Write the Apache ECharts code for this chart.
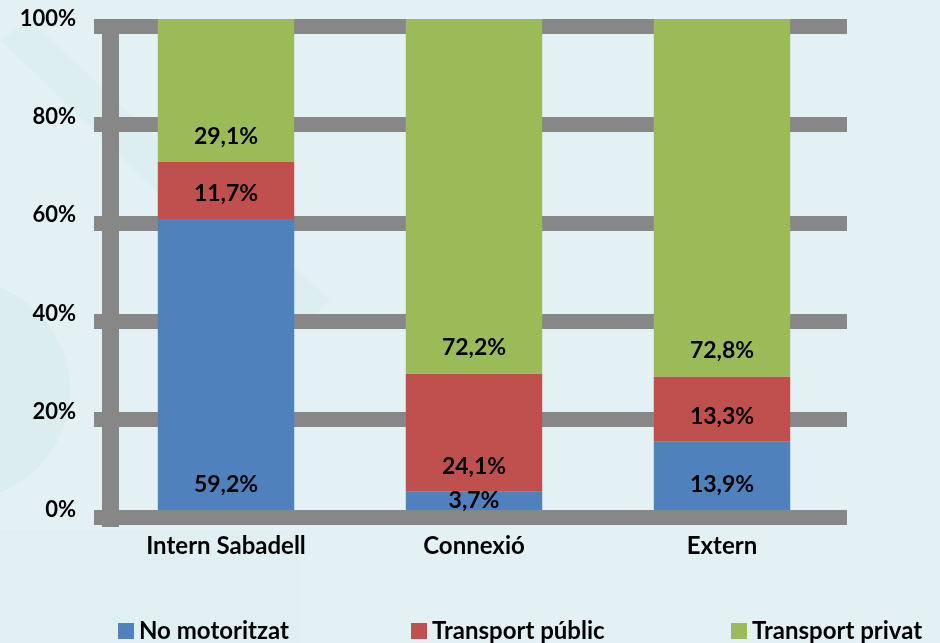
<!DOCTYPE html>
<html>
<head>
<meta charset="utf-8">
<script src="https://cdn.jsdelivr.net/npm/echarts@6/dist/echarts.min.js"></script>
<style>
  html, body { margin: 0; padding: 0; background: #e3f1f4; }
  #chart { width: 940px; height: 643px; }
</style>
</head>
<body>
<div id="chart"></div>
<script>
var categories = ['Intern Sabadell', 'Connexió', 'Extern'];
var seriesNames = ['No motoritzat', 'Transport públic', 'Transport privat'];
var noMotoritzat = [59.2, 3.7, 13.9];
var transportPublic = [11.7, 24.1, 13.3];
var transportPrivat = [29.1, 72.2, 72.8];
var colors = ['#4f81bd', '#c0504d', '#9bbb59'];

var font = 'Lato, "Open Sans", sans-serif';
var myChart = echarts.init(document.getElementById('chart'));

function pct(p) {
  return p.value.toFixed(1).replace('.', ',') + '%';
}

function barSeries(name, values, color) {
  return {
    name: name,
    type: 'bar',
    stack: 'total',
    xAxisIndex: 0,
    yAxisIndex: 0,
    barWidth: '55%',
    itemStyle: { color: color },
    label: {
      show: true,
      position: 'insideBottom',
      distance: 14,
      formatter: pct,
      color: '#000',
      fontFamily: font,
      fontWeight: 'bold',
      fontSize: 23
    },
    // tiny segments: label centred
    data: values.map(function (v) {
      if (v < 5) {
        return { value: v, label: { position: 'inside', distance: 0 } };
      }
      return v;
    }),
    z: 3
  };
}

var option = {
  backgroundColor: '#e3f1f4',
  animation: false,
  graphic: [
    { type: 'circle', shape: { cx: -40, cy: 390, r: 110 }, style: { fill: '#d5eaeb', opacity: 0.5 }, z: -10 },
    { type: 'polygon', shape: { points: [[0, 40], [30, 20], [330, 300], [300, 330]] }, style: { fill: '#d7ebed', opacity: 0.5 }, z: -10 },
    { type: 'rect', shape: { x: 0, y: 530, width: 300, height: 113 }, style: { fill: '#dcefef', opacity: 0.4 }, z: -10 }
  ],
  legend: [0, 1, 2].map(function (i) {
    return {
      data: [seriesNames[i]],
      left: [113, 406, 726][i],
      top: 614,
      itemWidth: 16,
      itemHeight: 16,
      itemGap: 0,
      icon: 'rect',
      textStyle: { color: '#000', fontFamily: font, fontWeight: 'bold', fontSize: 24 }
    };
  }),
  grid: [
    { left: 102, right: 94, top: 19, bottom: 133 },
    { left: 94, right: 93, top: 26.5, bottom: 125.5 },
    { left: 110.5, right: 93, top: 19, bottom: 116 }
  ],
  xAxis: [
    {
      gridIndex: 0,
      type: 'category',
      data: categories,
      axisLine: { show: false },
      axisTick: { show: false },
      axisLabel: { margin: 24, color: '#000', fontFamily: font, fontWeight: 'bold', fontSize: 24 }
    },
    { gridIndex: 1, type: 'value', show: false },
    { gridIndex: 2, type: 'value', show: false }
  ],
  yAxis: [
    {
      gridIndex: 0,
      type: 'value',
      min: 0,
      max: 100,
      interval: 20,
      axisLine: { show: false },
      axisTick: { show: false },
      splitLine: { show: false },
      axisLabel: { margin: 26, formatter: '{value}%', color: '#000', fontFamily: font, fontWeight: 'bold', fontSize: 22 }
    },
    {
      gridIndex: 1,
      type: 'value',
      min: 0,
      max: 100,
      interval: 20,
      axisLine: { show: false },
      axisTick: { show: false },
      axisLabel: { show: false },
      splitLine: { show: true, lineStyle: { color: '#878787', width: 15, cap: 'butt' } }
    },
    {
      gridIndex: 2,
      type: 'value',
      min: 0,
      max: 1,
      axisLine: { show: true, lineStyle: { color: '#878787', width: 17, cap: 'butt' } },
      axisTick: { show: false },
      axisLabel: { show: false },
      splitLine: { show: false }
    }
  ],
  series: [
    barSeries(seriesNames[0], noMotoritzat, colors[0]),
    barSeries(seriesNames[1], transportPublic, colors[1]),
    barSeries(seriesNames[2], transportPrivat, colors[2])
  ]
};

myChart.setOption(option);
</script>
</body>
</html>
